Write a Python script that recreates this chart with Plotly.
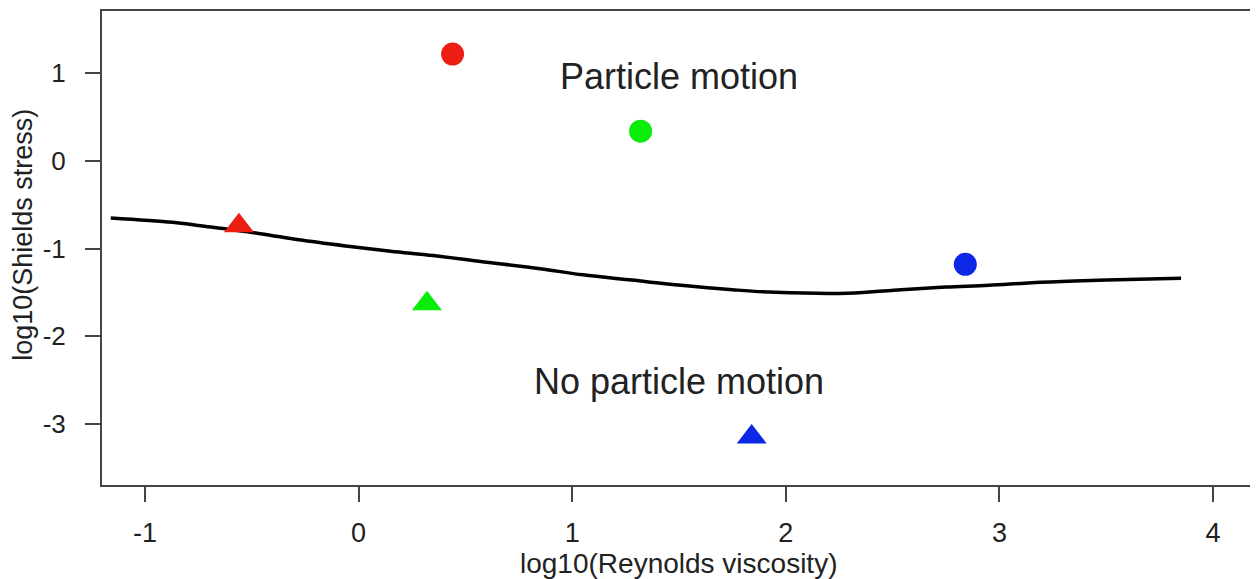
import plotly.graph_objects as go

# threshold curve
curve_x = [-1.16, -0.87, -0.74, -0.46, -0.28, -0.06, 0.15, 0.35, 0.58, 0.85, 1.05,
           1.28, 1.51, 1.75, 1.95, 2.29, 2.54, 2.75, 2.95, 3.15, 3.35, 3.65, 3.85]
curve_y = [-0.65, -0.70, -0.74, -0.83, -0.90, -0.97, -1.03, -1.08, -1.15, -1.23, -1.30,
           -1.36, -1.42, -1.47, -1.50, -1.51, -1.47, -1.44, -1.42, -1.39, -1.37, -1.35, -1.34]

# observations
motion_x = [0.44, 1.32, 2.84]
motion_y = [1.22, 0.34, -1.18]
still_x = [-0.56, 0.32, 1.84]
still_y = [-0.74, -1.63, -3.15]
colors = ["rgb(236,30,20)", "rgb(10,236,10)", "rgb(12,40,230)"]

xticks = [-1, 0, 1, 2, 3, 4]
xlabels = ["-1", "0", "1", "2", "3", "4"]
yticks = [-3, -2, -1, 0, 1]
ylabels = ["-3", "-2", "-1", "0", "1"]

font = "Liberation Sans, Arial, sans-serif"
ink = "#222222"
frame = "#444444"

fig = go.Figure()
fig.add_trace(go.Scatter(x=curve_x, y=curve_y, mode="lines",
                         line=dict(color="black", width=3.5, shape="spline"),
                         showlegend=False))
fig.add_trace(go.Scatter(x=motion_x, y=motion_y, mode="markers",
                         marker=dict(symbol="circle", size=23, color=colors),
                         showlegend=False))
fig.add_trace(go.Scatter(x=still_x, y=still_y, mode="markers",
                         marker=dict(symbol="triangle-up", size=26, color=colors),
                         showlegend=False))

fig.add_annotation(x=1.50, y=0.97, text="Particle motion", showarrow=False,
                   font=dict(size=36, color=ink, family=font))
fig.add_annotation(x=1.50, y=-2.52, text="No particle motion", showarrow=False,
                   font=dict(size=36, color=ink, family=font))

# axis titles
fig.add_annotation(xref="paper", yref="paper", x=0.5, y=-0.165, yanchor="middle",
                   text="log10(Reynolds viscosity)", showarrow=False,
                   font=dict(size=28, color=ink, family=font))
fig.add_annotation(xref="paper", yref="paper", x=-0.068, y=0.527, xanchor="center",
                   text="log10(Shields stress)", textangle=-90, showarrow=False,
                   font=dict(size=27, color=ink, family=font))

fig.update_xaxes(range=[-1.201, 4.196], tickvals=xticks, ticktext=xlabels,
                 showgrid=False, zeroline=False,
                 showline=True, mirror=True, linecolor=frame, linewidth=2,
                 ticks="outside", ticklen=15, tickwidth=2, tickcolor=frame,
                 ticklabelstandoff=8,
                 tickfont=dict(size=27, color=ink, family=font))
fig.update_yaxes(range=[-3.699, 1.712], tickvals=yticks, ticktext=ylabels,
                 showgrid=False, zeroline=False,
                 showline=True, mirror=True, linecolor=frame, linewidth=2,
                 ticks="outside", ticklen=15, tickwidth=2, tickcolor=frame,
                 ticklabelstandoff=14,
                 tickfont=dict(size=26, color=ink, family=font))

# page body has an 8px margin, so the figure is drawn 8px smaller
fig.update_layout(width=1250, height=571,
                  margin=dict(l=94, r=1, t=3, b=94),
                  paper_bgcolor="white", plot_bgcolor="white")

fig.write_html("out.html")
